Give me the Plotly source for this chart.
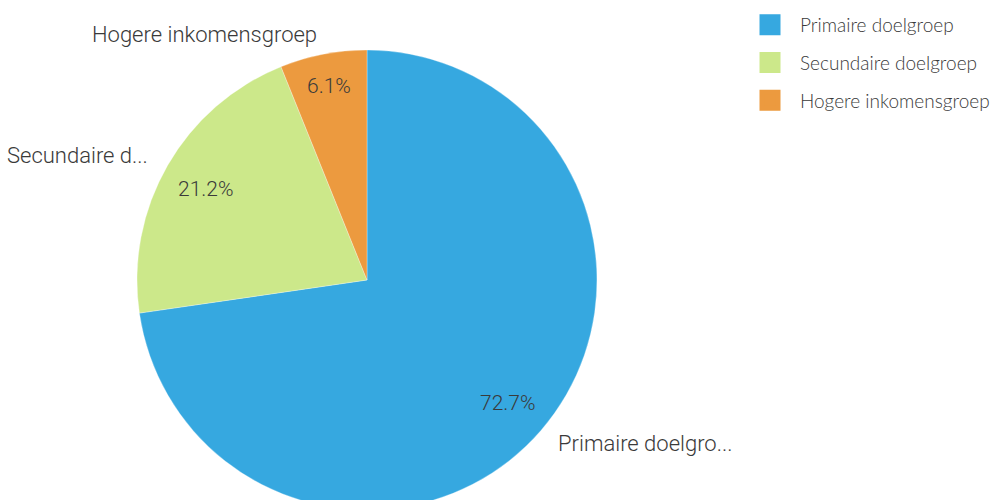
import math
import plotly.graph_objects as go

# Distribution of households over the target groups (share in %)
groups = ["Primaire doelgroep", "Secundaire doelgroep", "Hogere inkomensgroep"]
short_labels = ["Primaire doelgro...", "Secundaire d...", "Hogere inkomensgroep"]
shares = [72.7, 21.2, 6.1]
colors = ["#36a8e0", "#cce88a", "#ec9a3f"]

LABEL_FONT = "Roboto"
LEGEND_FONT = "Lato"
TEXT_COLOR = "#3a3a3a"
W, H = 997, 510

# Pie placement (pixels): centre and radius
CX, CY, R = 367, 280, 230

fig = go.Figure()

fig.add_trace(go.Pie(
    labels=groups,
    values=shares,
    sort=False,
    direction="clockwise",
    rotation=0,
    marker=dict(colors=colors, line=dict(color="rgba(255,255,255,0.6)", width=0.5)),
    textinfo="none",
    domain=dict(x=[(CX - R) / W, (CX + R) / W], y=[(H - CY - R) / H, (H - CY + R) / H]),
    showlegend=False,
    hoverinfo="skip",
))


def to_paper(px, py):
    return px / W, 1 - py / H


# Percentages inside and names outside, placed at each slice's mid-angle
total = sum(shares)
start = 0.0
for share, name in zip(shares, short_labels):
    mid = (start + share / 2) / total * 2 * math.pi  # clockwise from 12 o'clock
    start += share
    dx, dy = math.sin(mid), -math.cos(mid)

    pct = f"{share / total * 100:.1f}%"
    # keep the value text inside the arc with a small padding
    half_w, half_h = 0.3 * 21 * len(pct) / 2 * 1.7, 11
    reach = abs(dx) * half_w + abs(dy) * half_h
    r_in = R - reach - 16
    x, y = to_paper(CX + dx * r_in, CY + dy * r_in + 1)
    fig.add_annotation(x=x, y=y, xref="paper", yref="paper", text=pct,
                       showarrow=False, xanchor="center", yanchor="middle",
                       font=dict(family=LABEL_FONT, size=21, color=TEXT_COLOR, weight=300))

    r_out = R + 20
    x, y = to_paper(CX + dx * r_out, CY + dy * r_out)
    fig.add_annotation(x=x, y=y, xref="paper", yref="paper", text=name,
                       showarrow=False, xanchor="left" if dx > 0 else "right",
                       yanchor="middle",
                       font=dict(family=LABEL_FONT, size=22, color=TEXT_COLOR, weight=300))

# Legend entries with large square swatches
for i, (name, col) in enumerate(zip(groups, colors)):
    fig.add_trace(go.Scatter(
        x=[None], y=[None], mode="markers", name=name,
        legendgroup=f"g{i}",
        marker=dict(symbol="square", size=22, color=col, line=dict(color=col, width=5)),
        hoverinfo="skip",
    ))

fig.update_layout(
    width=W, height=H,
    margin=dict(l=0, r=0, t=0, b=0),
    paper_bgcolor="white",
    plot_bgcolor="white",
    xaxis=dict(visible=False),
    yaxis=dict(visible=False),
    legend=dict(
        x=740 / W, xanchor="left", y=1 - 6 / H, yanchor="top",
        font=dict(family=LEGEND_FONT, size=19, color=TEXT_COLOR, weight=300),
        itemwidth=50, itemsizing="trace", tracegroupgap=10,
        bgcolor="rgba(0,0,0,0)",
    ),
)

fig.write_html(
    "out.html",
    post_script="document.documentElement.style.overflow='hidden';document.body.style.overflow='hidden';document.body.style.margin='0';",
)
